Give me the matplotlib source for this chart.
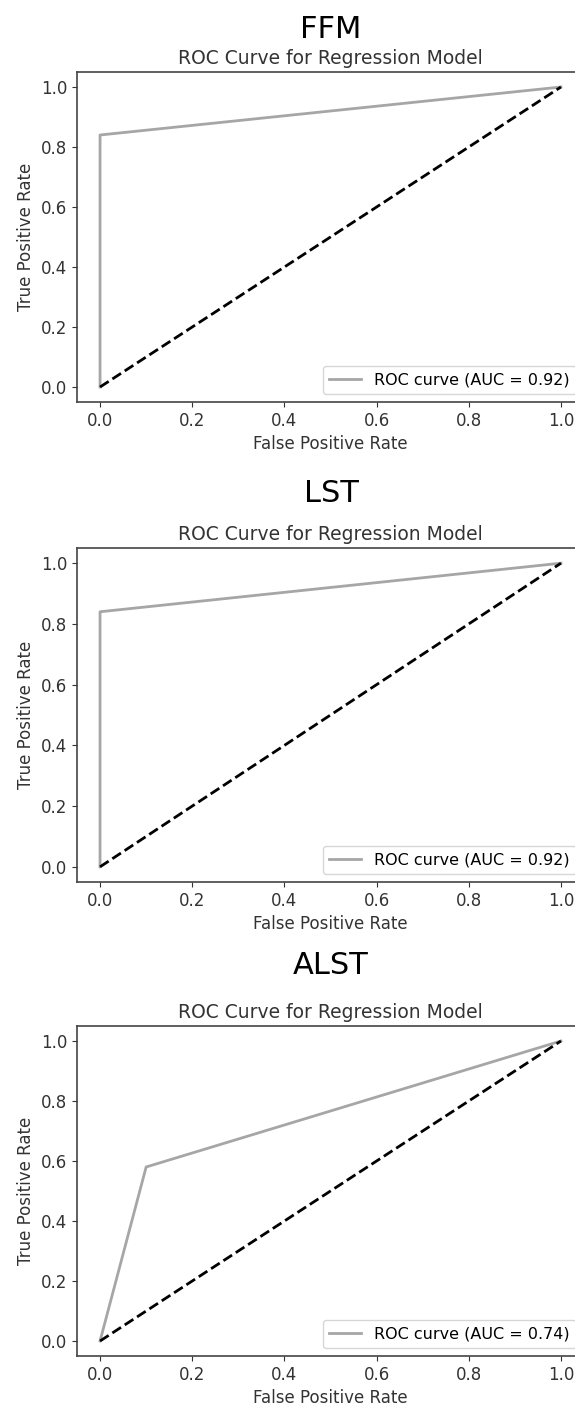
import matplotlib
matplotlib.use("Agg")
import matplotlib.pyplot as plt

names = ["FFM", "LST", "ALST"]
fpr_list = [[0.0, 0.0, 1.0], [0.0, 0.0, 1.0], [0.0, 0.1, 1.0]]
tpr_list = [[0.0, 0.84, 1.0], [0.0, 0.84, 1.0], [0.0, 0.58, 1.0]]
auc_list = [0.92, 0.92, 0.74]

W, H = 575, 1408
fig = plt.figure(figsize=(W / 100, H / 100), dpi=100)

# axes boxes in pixels: top spine, bottom spine
tops = [72, 548, 1026]
bottoms = [402, 882, 1356]
left_px, right_px = 77, 584
name_y = [30, 493, 965]

for i in range(3):
    ax = fig.add_axes([left_px / W, 1 - bottoms[i] / H,
                       (right_px - left_px) / W, (bottoms[i] - tops[i]) / H])
    ax.plot(fpr_list[i], tpr_list[i], color="#a6a6a6", lw=2,
            label="ROC curve (AUC = %0.2f)" % auc_list[i])
    ax.plot([0, 1], [0, 1], "k--", lw=2)
    ax.set_xlim(-0.05, 1.05)
    ax.set_ylim(-0.05, 1.05)
    ax.set_xticks([0, 0.2, 0.4, 0.6, 0.8, 1.0])
    ax.set_yticks([0, 0.2, 0.4, 0.6, 0.8, 1.0])
    ax.tick_params(labelsize=12, colors="#333333")
    ax.set_xlabel("False Positive Rate", fontsize=12, color="#333333")
    ax.set_ylabel("True Positive Rate", fontsize=12, color="#333333")
    ax.set_title("ROC Curve for Regression Model", fontsize=13.5, color="#333333")
    for s in ax.spines.values():
        s.set_color("#444444")
        s.set_linewidth(1.2)
    ax.legend(loc="lower right", fontsize=11.5)
    fig.text(331 / W, 1 - name_y[i] / H, names[i],
             ha="center", va="center", fontsize=22)

plt.savefig("out.png", dpi=100)
